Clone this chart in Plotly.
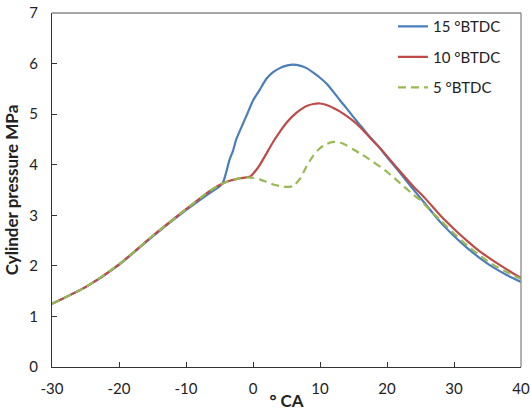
import plotly.graph_objects as go

# Crank angle (° CA) and cylinder pressure (MPa) for each ignition timing
x_15 = [-30, -25, -20, -15, -10, -7, -5, -4.5, -4, -3.5, -3, -2.5, -2, -1, 0, 1, 2, 3, 4, 5, 6, 7, 8, 9,
        10, 11, 12, 13, 14, 15, 16, 17, 18, 19, 20, 22, 24, 25, 26, 28, 30, 32, 34, 36, 38, 40]
p_15 = [1.25, 1.58, 2.02, 2.58, 3.10, 3.39, 3.57, 3.64, 3.85, 4.10, 4.27, 4.50, 4.66, 4.96, 5.27, 5.48,
        5.70, 5.83, 5.91, 5.96, 5.98, 5.96, 5.91, 5.82, 5.72, 5.60, 5.44, 5.27, 5.11, 4.94, 4.78, 4.62,
        4.47, 4.32, 4.15, 3.83, 3.50, 3.34, 3.18, 2.86, 2.59, 2.35, 2.14, 1.96, 1.81, 1.68]

x_10 = [-30, -25, -20, -15, -10, -7, -5, -4, -3, -2, -1, -0.4, 0, 0.5, 1, 2, 3, 4, 5, 6, 7, 8, 9,
        10, 11, 12, 13, 14, 15, 16, 17, 18, 19, 20, 22, 24, 25, 26, 28, 30, 32, 34, 36, 38, 40]
p_10 = [1.25, 1.58, 2.03, 2.59, 3.12, 3.43, 3.60, 3.66, 3.70, 3.73, 3.75, 3.77, 3.82, 3.90, 3.99, 4.22,
        4.45, 4.65, 4.83, 4.97, 5.08, 5.16, 5.20, 5.21, 5.18, 5.12, 5.05, 4.96, 4.86, 4.74, 4.60, 4.46,
        4.32, 4.17, 3.86, 3.56, 3.43, 3.29, 2.99, 2.73, 2.49, 2.27, 2.09, 1.92, 1.76]

x_5 = [-30, -25, -20, -15, -10, -7, -5, -4, -3, -2, -1, 0, 1, 2, 3, 4, 5, 6, 7, 8, 9,
       10, 11, 12, 13, 14, 15, 16, 17, 18, 19, 20, 22, 24, 25, 26, 28, 30, 32, 34, 36, 38, 40]
p_5 = [1.25, 1.58, 2.03, 2.59, 3.12, 3.43, 3.60, 3.66, 3.70, 3.73, 3.75, 3.74, 3.71, 3.66, 3.61, 3.58,
       3.56, 3.58, 3.72, 3.97, 4.18, 4.33, 4.41, 4.45, 4.44, 4.38, 4.30, 4.22, 4.14, 4.05, 3.96, 3.86,
       3.63, 3.40, 3.30, 3.16, 2.90, 2.64, 2.40, 2.19, 2.01, 1.87, 1.74]

names = ["15 °BTDC", "10 °BTDC", "5 °BTDC"]
colors = ["#4a7ebb", "#be4b48", "#98b954"]

x_ticks = [-30, -20, -10, 0, 10, 20, 30, 40]
x_tick_text = ["-30", "-20", "-10", "0", "10", "20", "30", "40"]
y_ticks = [0, 1, 2, 3, 4, 5, 6, 7]

FONT = "Lato, 'Open Sans', sans-serif"

fig = go.Figure()
series = [(x_15, p_15, "solid"), (x_10, p_10, "solid"), (x_5, p_5, "dash")]
for (xs, ys, dash), name, col in zip(series, names, colors):
    fig.add_trace(go.Scatter(
        x=xs, y=ys, mode="lines", name=name, legendgroup=name,
        line=dict(color=col, width=2.2, dash=("8px,5px" if dash == "dash" else "solid"),
                  shape="spline", smoothing=0.6),
    ))

fig.update_layout(
    width=530, height=411,
    margin=dict(l=52, r=9, t=13, b=44),
    paper_bgcolor="white", plot_bgcolor="white",
    font=dict(family=FONT, size=15, color="#222"),
    showlegend=True,
    legend=dict(x=0.727, y=1.008, xanchor="left", yanchor="top",
                bgcolor="rgba(0,0,0,0)", font=dict(size=15, color="#222"),
                tracegroupgap=8),
    xaxis=dict(range=[-30, 40], tickvals=x_ticks, ticktext=x_tick_text,
               ticks="inside", ticklen=5, automargin=False,
               tickcolor="#333", showgrid=False, zeroline=False,
               showline=True, linecolor="#333", linewidth=1.3,
               tickfont=dict(size=15), ticklabelstandoff=8,
               title=dict(text="<b>° CA</b>", font=dict(size=17), standoff=0)),
    yaxis=dict(range=[0, 7], tickvals=y_ticks, ticks="inside", ticklen=5,
               automargin=False,
               tickcolor="#333", showgrid=False, zeroline=False,
               showline=True, linecolor="#333", linewidth=1.3,
               tickfont=dict(size=15), ticklabelstandoff=10,
               title=dict(text="<b>Cylinder pressure MPa</b>", font=dict(size=17), standoff=6)),
)

# top and right frame of the plot area (lighter grey)
fig.add_shape(type="line", xref="paper", yref="paper", x0=0, x1=1, y0=1, y1=1,
              line=dict(color="#888", width=1.3))
fig.add_shape(type="line", xref="paper", yref="paper", x0=1, x1=1, y0=0, y1=1,
              line=dict(color="#888", width=1.3))

fig.write_html("out.html")
